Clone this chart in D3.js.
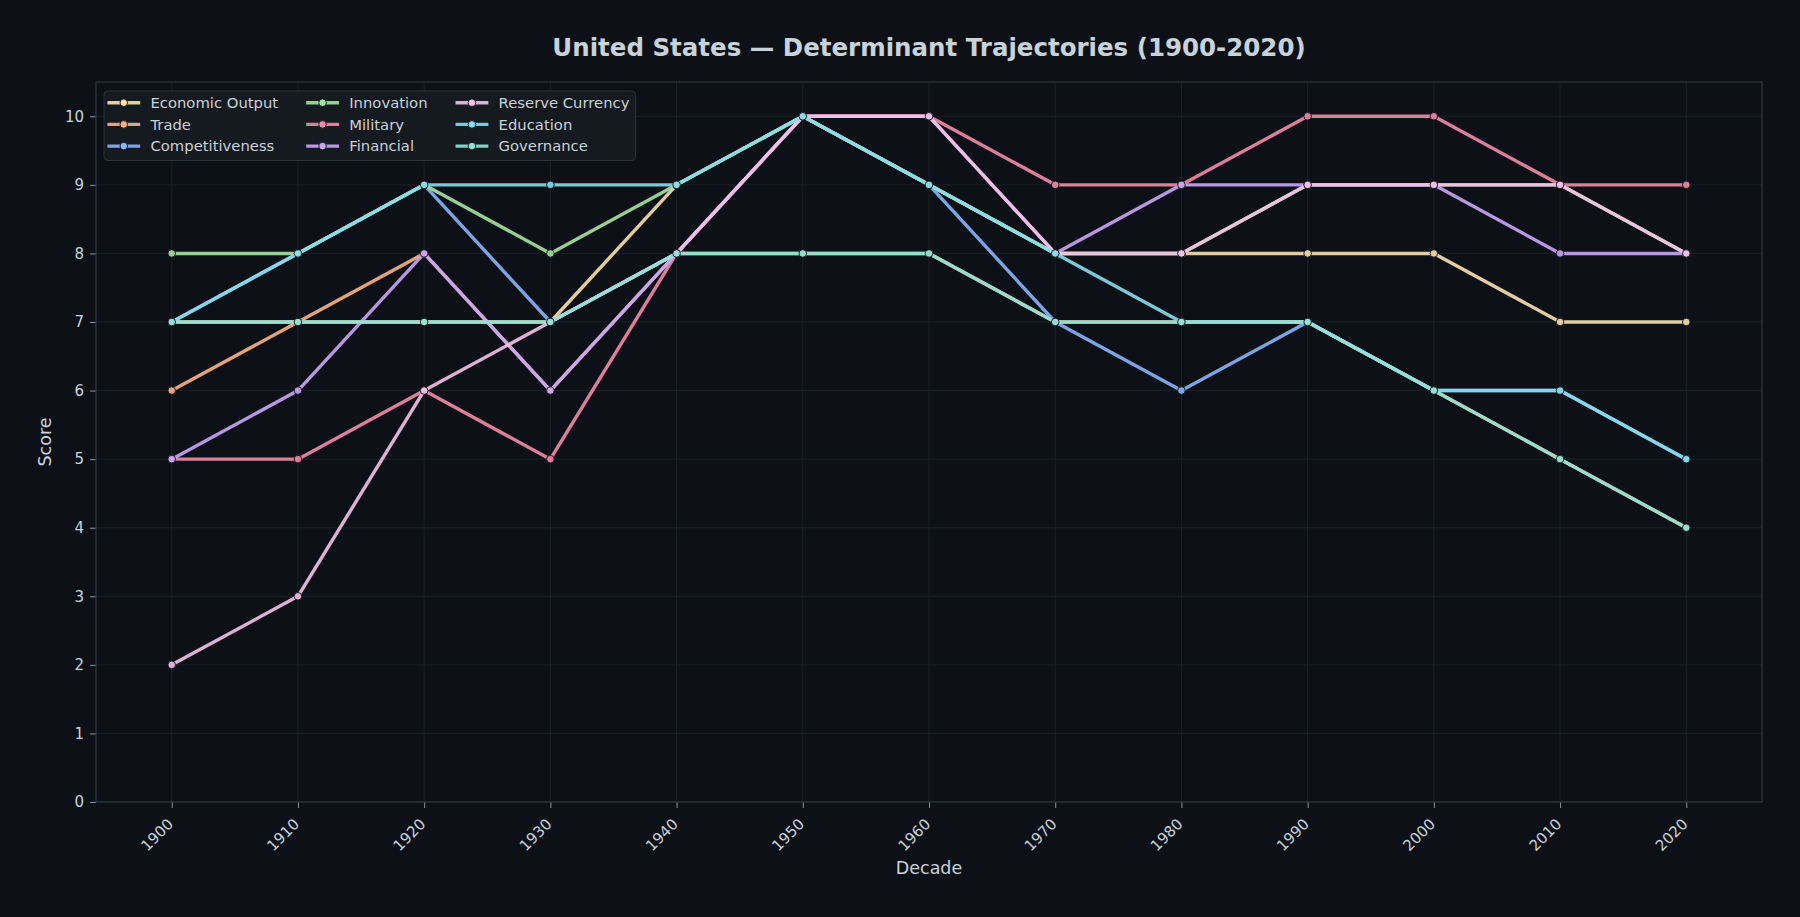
<!DOCTYPE html>
<html>
<head>
<meta charset="utf-8">
<script src="https://cdn.jsdelivr.net/npm/d3@7"></script>
<style>
    html, body { margin: 0; padding: 0; background: #0d1117; }
    svg { display: block; font-family: "DejaVu Sans", sans-serif; }
</style>
</head>
<body>
<div id="chart"></div>
<script>
// Decades on the x axis
const decades = [1900, 1910, 1920, 1930, 1940, 1950, 1960, 1970, 1980, 1990, 2000, 2010, 2020];
const yTicks = [0, 1, 2, 3, 4, 5, 6, 7, 8, 9, 10];

// Scores per determinant (drawn in this order)
const economicOutput   = [7, 7, 7, 7, 9, 10, 9, 8, 8, 8, 8, 7, 7];
const trade            = [6, 7, 8, 6, 8, 8, 8, 7, 7, 7, 6, 5, 4];
const competitiveness  = [7, 8, 9, 7, 8, 10, 9, 7, 6, 7, 6, 6, 5];
const innovation       = [8, 8, 9, 8, 9, 10, 9, 8, 8, 9, 9, 9, 8];
const military         = [5, 5, 6, 5, 8, 10, 10, 9, 9, 10, 10, 9, 9];
const financial        = [5, 6, 8, 6, 8, 10, 10, 8, 9, 9, 9, 8, 8];
const reserveCurrency  = [2, 3, 6, 7, 8, 10, 10, 8, 8, 9, 9, 9, 8];
const education        = [7, 8, 9, 9, 9, 10, 9, 8, 7, 7, 6, 6, 5];
const governance       = [7, 7, 7, 7, 8, 8, 8, 7, 7, 7, 6, 5, 4];

const seriesNames = ["Economic Output", "Trade", "Competitiveness", "Innovation", "Military",
    "Financial", "Reserve Currency", "Education", "Governance"];
const seriesValues = [economicOutput, trade, competitiveness, innovation, military,
    financial, reserveCurrency, education, governance];
const seriesColors = ["#f9e2af", "#fab387", "#89b4fa", "#a6e3a1", "#f38ba8",
    "#cba6f7", "#f5c2e7", "#89dceb", "#94e2d5"];

const series = seriesNames.map((name, i) => ({
    name: name,
    color: seriesColors[i],
    points: decades.map((d, j) => ({ decade: d, value: seriesValues[i][j] }))
}));

// Specify the chart’s dimensions.
const width = 1800;
const height = 917;
const marginTop = 82;
const marginRight = 38;
const marginBottom = 115;
const marginLeft = 96;

const bg = "#0d1117";
const textColor = "#c9d1d9";
const spineColor = "#30363d";
const gridColor = "#1b2027";
const fontSize = 15;
const legendFontSize = 14.8;

// Create the positional scales.
const x = d3.scaleLinear()
    .domain([1894, 2026])
    .range([marginLeft, width - marginRight]);

const y = d3.scaleLinear()
    .domain([0, 10.5])
    .range([height - marginBottom, marginTop]);

// Create the SVG container.
const svg = d3.select("#chart")
    .append("svg")
    .attr("width", width)
    .attr("height", height)
    .attr("viewBox", [0, 0, width, height]);

svg.append("rect")
    .attr("width", width)
    .attr("height", height)
    .attr("fill", bg);

// Grid lines
const grid = svg.append("g").attr("stroke", gridColor).attr("stroke-width", 1);
grid.selectAll(".gx")
    .data(decades)
    .join("line")
    .attr("x1", (d) => x(d))
    .attr("x2", (d) => x(d))
    .attr("y1", marginTop)
    .attr("y2", height - marginBottom);
grid.selectAll(".gy")
    .data(yTicks)
    .join("line")
    .attr("x1", marginLeft)
    .attr("x2", width - marginRight)
    .attr("y1", (d) => y(d))
    .attr("y2", (d) => y(d));

// Add the axes
const xAxis = svg.append("g")
    .attr("transform", `translate(0,${height - marginBottom})`)
    .call(d3.axisBottom(x).tickValues(decades).tickFormat(d3.format("d")).tickSize(6).tickPadding(6).tickSizeOuter(0))
    .attr("font-family", null)
    .attr("font-size", null);
xAxis.select(".domain").remove();
xAxis.selectAll(".tick line").attr("stroke", "#8b949e").attr("stroke-width", 1);
xAxis.selectAll(".tick text")
    .attr("fill", textColor)
    .style("font-size", fontSize + "px")
    .attr("text-anchor", "end")
    .attr("dy", null)
    .attr("y", 0)
    .attr("transform", "translate(-6,15) rotate(-45)")
    .attr("dominant-baseline", "hanging");

const yAxis = svg.append("g")
    .attr("transform", `translate(${marginLeft},0)`)
    .call(d3.axisLeft(y).tickValues(yTicks).tickSize(6).tickPadding(6).tickSizeOuter(0))
    .attr("font-family", null)
    .attr("font-size", null);
yAxis.select(".domain").remove();
yAxis.selectAll(".tick line").attr("stroke", "#8b949e").attr("stroke-width", 1);
yAxis.selectAll(".tick text")
    .attr("fill", textColor)
    .style("font-size", fontSize + "px");

// Spines
svg.append("rect")
    .attr("x", marginLeft)
    .attr("y", marginTop)
    .attr("width", width - marginRight - marginLeft)
    .attr("height", height - marginBottom - marginTop)
    .attr("fill", "none")
    .attr("stroke", spineColor)
    .attr("stroke-width", 1.2);

// Draw the lines, one series at a time so later ones cover earlier markers.
const line = d3.line()
    .x((d) => x(d.decade))
    .y((d) => y(d.value));

series.forEach((s) => {
    const g = svg.append("g").attr("opacity", 0.9);
    g.append("path")
        .datum(s.points)
        .attr("fill", "none")
        .attr("stroke", s.color)
        .attr("stroke-width", 3.4)
        .attr("stroke-linejoin", "round")
        .attr("stroke-linecap", "butt")
        .attr("d", line);
    g.selectAll("circle")
        .data(s.points)
        .join("circle")
        .attr("cx", (d) => x(d.decade))
        .attr("cy", (d) => y(d.value))
        .attr("r", 3.8)
        .attr("fill", s.color)
        .attr("stroke", bg)
        .attr("stroke-width", 0.9);
});

// Legend (3 columns, filled column by column)
const legend = svg.append("g");
const legendBox = legend.append("rect")
    .attr("fill", "#161b22")
    .attr("stroke", spineColor)
    .attr("stroke-width", 1)
    .attr("rx", 4)
    .attr("opacity", 0.95);

const rowY = [102.7, 124.4, 146.1];
const handleLen = 2 * legendFontSize;
const textGap = 0.8 * legendFontSize;
const colSpacing = 2 * legendFontSize;
let colX = 109;
for (let c = 0; c < 3; c++) {
    let maxW = 0;
    for (let r = 0; r < 3; r++) {
        const s = series[c * 3 + r];
        const item = legend.append("g").attr("transform", `translate(${colX},${rowY[r]})`);
        item.append("line")
            .attr("x1", -1.6)
            .attr("x2", handleLen + 1.6)
            .attr("stroke", s.color)
            .attr("stroke-width", 3.4)
            .attr("opacity", 0.9);
        item.append("circle")
            .attr("cx", handleLen / 2)
            .attr("r", 3.8)
            .attr("fill", s.color)
            .attr("stroke", bg)
            .attr("stroke-width", 0.9);
        const t = item.append("text")
            .attr("x", handleLen + textGap)
            .attr("dy", "0.35em")
            .attr("fill", textColor)
            .style("font-size", legendFontSize + "px")
            .text(s.name);
        maxW = Math.max(maxW, t.node().getComputedTextLength());
    }
    colX += handleLen + textGap + maxW + colSpacing;
}
legendBox
    .attr("x", 104)
    .attr("y", 91)
    .attr("width", colX - colSpacing + 6 - 104)
    .attr("height", 69.5);

// Axis labels
svg.append("text")
    .attr("x", (marginLeft + width - marginRight) / 2)
    .attr("y", 869)
    .attr("text-anchor", "middle")
    .attr("dominant-baseline", "middle")
    .attr("fill", textColor)
    .style("font-size", "17.5px")
    .text("Decade");

svg.append("text")
    .attr("transform", `translate(46,${(marginTop + height - marginBottom) / 2}) rotate(-90)`)
    .attr("text-anchor", "middle")
    .attr("dominant-baseline", "middle")
    .attr("fill", textColor)
    .style("font-size", "17.5px")
    .text("Score");

// Add title to the graph
svg.append("text")
    .attr("x", (marginLeft + width - marginRight) / 2)
    .attr("y", 49)
    .attr("text-anchor", "middle")
    .attr("dominant-baseline", "middle")
    .attr("fill", textColor)
    .style("font-size", "24.5px")
    .style("font-weight", "bold")
    .text("United States — Determinant Trajectories (1900-2020)");
</script>
</body>
</html>
